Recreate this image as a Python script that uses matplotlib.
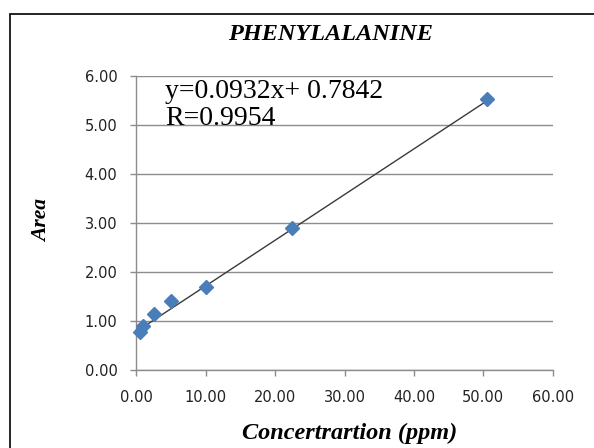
import matplotlib.pyplot as plt
from matplotlib.patches import Rectangle
import numpy as np

# calibration data
conc = [0.5, 1.0, 2.5, 5.0, 10.0, 22.5, 50.5]
area = [0.78, 0.90, 1.14, 1.41, 1.69, 2.90, 5.53]
slope = 0.0932
intercept = 0.7842
r_value = 0.9954

xticks = [0, 10, 20, 30, 40, 50, 60]
yticks = [0, 1, 2, 3, 4, 5, 6]

W, H = 594, 448
fig = plt.figure(figsize=(W / 100, H / 100), dpi=100)

def fx(px):
    return px / W

def fy(py):
    return 1 - py / H

# outer chart border (only left and top edges inside the image)
fig.patches.append(Rectangle((fx(10), -0.1), 1.2, fy(14) + 0.1,
                             transform=fig.transFigure, fill=False,
                             edgecolor='black', linewidth=1.2))

ax = fig.add_axes([fx(136.3), fy(370), fx(552.7 - 136.3), (370 - 76) / H])

serif = 'Liberation Serif'
sans = 'DejaVu Sans'

ax.set_xlim(0, 60)
ax.set_ylim(0, 6)
ax.set_xticks(xticks)
ax.set_yticks(yticks)
ax.set_xticklabels(['%.2f' % v for v in xticks], fontfamily=sans, fontsize=10.5, color='#222222')
ax.set_yticklabels(['%.2f' % v for v in yticks], fontfamily=sans, fontsize=10.5, color='#222222')
ax.grid(axis='y', color='#8c8c8c', linewidth=1.0)
ax.set_axisbelow(True)
for s in ['top', 'right']:
    ax.spines[s].set_visible(False)
for s in ['left', 'bottom']:
    ax.spines[s].set_color('#8c8c8c')
    ax.spines[s].set_linewidth(1.0)
ax.tick_params(axis='both', direction='out', length=4.5, color='#8c8c8c', width=1.0)
ax.tick_params(axis='x', pad=10)
ax.tick_params(axis='y', pad=9)

# linear trendline over the data range
xl = np.array([min(conc), max(conc)])
ax.plot(xl, slope * xl + intercept, color='#3a3a3a', linewidth=1.0, zorder=2)
ax.plot(conc, area, linestyle='none', marker='D', markersize=7.5,
        color='#4a7ebb', zorder=3, clip_on=False)

fig.text(fx(165), fy(92), 'y=%.4fx+ %.4f' % (slope, intercept),
         fontfamily=serif, fontsize=20, va='center', ha='left')
fig.text(fx(165), fy(118), 'R=%.4f' % r_value,
         fontfamily=serif, fontsize=20, va='center', ha='left')

fig.text(fx(330), fy(34), 'PHENYLALANINE', ha='center', va='center',
         fontfamily=serif, fontsize=17.5, fontweight='bold', fontstyle='italic')
fig.text(fx(350), fy(433), 'Concertrartion (ppm)', ha='center', va='center',
         fontfamily=serif, fontsize=17.5, fontweight='bold', fontstyle='italic')
fig.text(fx(42), fy(221), 'Area', ha='center', va='center', rotation=90,
         fontfamily=serif, fontsize=15.5, fontweight='bold', fontstyle='italic')

fig.savefig('out.png', dpi=100)
